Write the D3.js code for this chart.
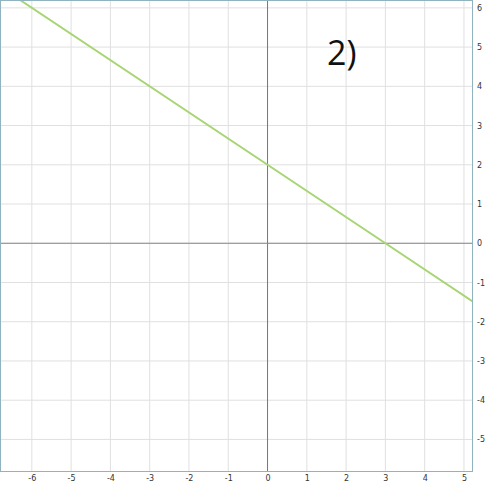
<!DOCTYPE html>
<html lang="en">
<head>
<meta charset="utf-8">
<script src="https://d3js.org/d3.v7.min.js"></script>
<style type="text/css">
  body { margin: 0; background: #fff; }
  .tick text { font: 8px "DejaVu Sans", sans-serif; fill: #333; }
</style>
</head>
<body>
<script type="text/javascript">

  // Ticks on each axis
  var xTicks = [-6, -5, -4, -3, -2, -1, 0, 1, 2, 3, 4, 5];
  var yTicks = [-5, -4, -3, -2, -1, 0, 1, 2, 3, 4, 5, 6];

  // Points of the line y = -2/3 x + 2 (ends clipped at the plot edges)
  var lineX = [-6.3, 0, 3, 5.23];
  var lineY = [6.2, 2, 0, -1.49];

  var label = "2)";

  var width = 500;
  var height = 496;

  // plot box
  var boxL = 0, boxR = 473, boxT = 0, boxB = 472;

  var x = d3.scaleLinear()
    .domain([-6.81, 5.23])
    .range([boxL, boxR]);

  var y = d3.scaleLinear()
    .domain([-5.83, 6.2])
    .range([boxB, boxT]);

  var svg = d3.select("body")
    .append("svg")
    .attr("width", width)
    .attr("height", height);

  svg.append("clipPath").attr("id", "plot")
    .append("rect")
    .attr("x", boxL).attr("y", boxT)
    .attr("width", boxR - boxL).attr("height", boxB - boxT);

  var plot = svg.append("g").attr("clip-path", "url(#plot)");

  // grid
  plot.selectAll("line.gx")
    .data(xTicks)
    .enter()
    .append("line")
    .attr("x1", function(d) { return x(d); })
    .attr("x2", function(d) { return x(d); })
    .attr("y1", boxT).attr("y2", boxB)
    .style("stroke", "#e0e0e0")
    .style("stroke-width", 1);

  plot.selectAll("line.gy")
    .data(yTicks)
    .enter()
    .append("line")
    .attr("y1", function(d) { return y(d); })
    .attr("y2", function(d) { return y(d); })
    .attr("x1", boxL).attr("x2", boxR)
    .style("stroke", "#e0e0e0")
    .style("stroke-width", 1);

  // main axes through zero
  plot.append("line")
    .attr("x1", x(0)).attr("x2", x(0))
    .attr("y1", boxT).attr("y2", boxB)
    .style("stroke", "#777")
    .style("stroke-width", 1);

  plot.append("line")
    .attr("y1", y(0)).attr("y2", y(0))
    .attr("x1", boxL).attr("x2", boxR)
    .style("stroke", "#888")
    .style("stroke-width", 1);

  // the green line
  var pts = lineX.map(function(d, i) { return [d, lineY[i]]; });
  plot.append("path")
    .datum(pts)
    .attr("d", d3.line()
      .x(function(d) { return x(d[0]); })
      .y(function(d) { return y(d[1]); }))
    .style("fill", "none")
    .style("stroke", "#a6d572")
    .style("stroke-width", 2);

  // border
  svg.append("rect")
    .attr("x", boxL + 0.5).attr("y", boxT + 0.5)
    .attr("width", boxR - boxL - 1).attr("height", boxB - boxT - 1)
    .style("fill", "none")
    .style("stroke", "#8fb3bf")
    .style("stroke-width", 1);

  // tick labels with axes, no lines
  var fmt = function(d) { return String(d); };

  var xAxis = svg.append("g")
    .attr("transform", "translate(0," + boxB + ")")
    .call(d3.axisBottom(x).tickValues(xTicks).tickFormat(fmt).tickSize(0).tickPadding(3));
  xAxis.select(".domain").remove();

  var yAxis = svg.append("g")
    .attr("transform", "translate(" + boxR + ",0)")
    .call(d3.axisRight(y).tickValues(yTicks).tickFormat(fmt).tickSize(0).tickPadding(4));
  yAxis.select(".domain").remove();

  svg.append("text")
    .attr("x", 327)
    .attr("y", 65)
    .style("font", "34px 'Open Sans', sans-serif")
    .style("fill", "#111")
    .text(label);

</script>
</body>
</html>
